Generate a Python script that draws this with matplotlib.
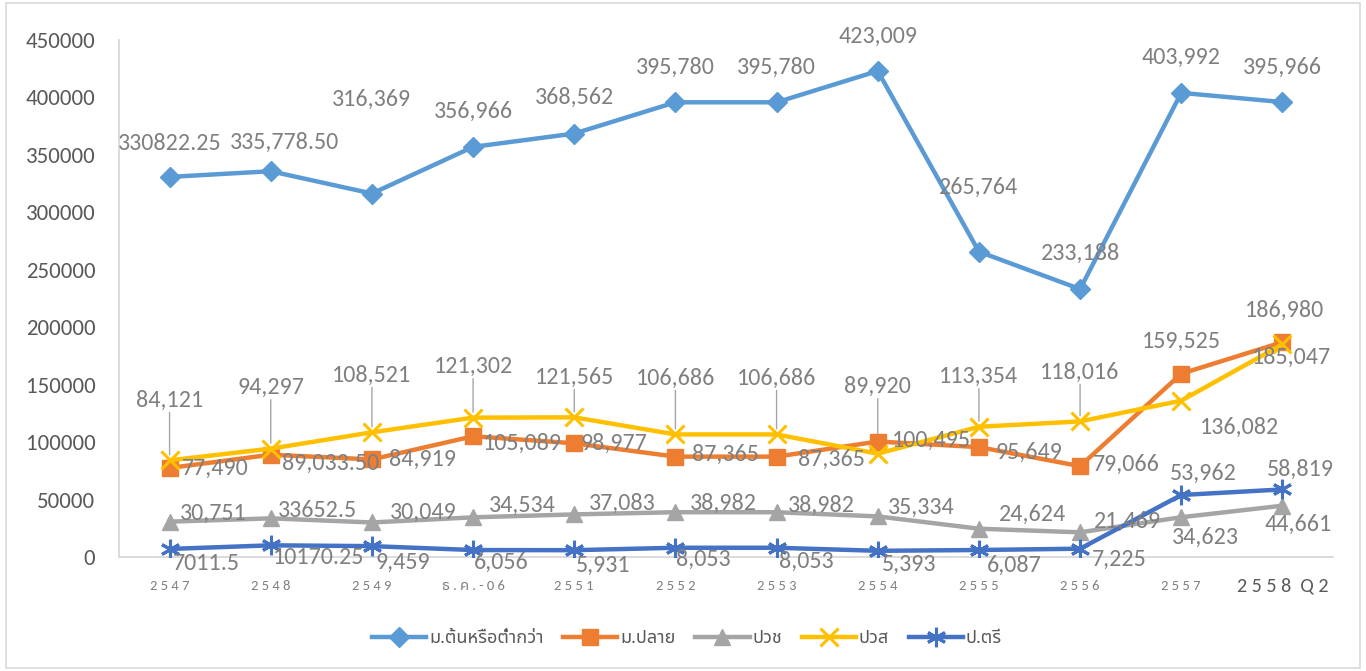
import matplotlib
matplotlib.use("Agg")
import matplotlib.pyplot as plt
from matplotlib.patches import Rectangle
import logging
logging.getLogger('matplotlib.font_manager').setLevel(logging.ERROR)

# ---------------- data ----------------
categories = ["2547", "2548", "2549", "ธ.ค.-06", "2551", "2552", "2553",
              "2554", "2555", "2556", "2557", "2558 Q2"]

series_names = ["ม.ต้นหรือต่ำกว่า", "ม.ปลาย", "ปวช", "ปวส", "ป.ตรี"]

lower_sec = [330822.25, 335778.50, 316369, 356966, 368562, 395780, 395780,
             423009, 265764, 233188, 403992, 395966]
upper_sec = [77490, 89033.5, 84919, 105089, 98977, 87365, 87365,
             100495, 95649, 79066, 159525, 186980]
voc_cert = [30751, 33652.5, 30049, 34534, 37083, 38982, 38982,
            35334, 24624, 21469, 34623, 44661]
voc_dipl = [84121, 94297, 108521, 121302, 121565, 106686, 106686,
            89920, 113354, 118016, 136082, 185047]
bachelor = [7011.5, 10170.25, 9459, 6056, 5931, 8053, 8053,
            5393, 6087, 7225, 53962, 58819]

lower_sec_lbl = ["330822.25", "335,778.50", "316,369", "356,966", "368,562", "395,780",
                 "395,780", "423,009", "265,764", "233,188", "403,992", "395,966"]
upper_sec_lbl = ["77,490", "89,033.50", "84,919", "105,089", "98,977", "87,365",
                 "87,365", "100,495", "95,649", "79,066", "159,525", "186,980"]
voc_cert_lbl = ["30,751", "33652.5", "30,049", "34,534", "37,083", "38,982",
                "38,982", "35,334", "24,624", "21,469", "34,623", "44,661"]
voc_dipl_lbl = ["84,121", "94,297", "108,521", "121,302", "121,565", "106,686",
                "106,686", "89,920", "113,354", "118,016", "136,082", "185,047"]
bachelor_lbl = ["7011.5", "10170.25", "9,459", "6,056", "5,931", "8,053",
                "8,053", "5,393", "6,087", "7,225", "53,962", "58,819"]

yticks = [0, 50000, 100000, 150000, 200000, 250000, 300000, 350000, 400000, 450000]

# ---------------- style ----------------
C_BLUE = "#5B9BD5"
C_ORANGE = "#ED7D31"
C_GRAY = "#A5A5A5"
C_YELLOW = "#FFC000"
C_DBLUE = "#4472C4"
LBL_COLOR = "#7F7F7F"
AX_COLOR = "#D9D9D9"
THAI = ["Noto Sans Thai", "Sarabun", "Anuphan"]
LBL_FONT = ["Carlito", "DejaVu Sans"]

# label offsets in pixels (dx, dy) and horizontal alignment
blue_off = [(0, 33, 'center'), (14, 29, 'center'), (0, 94, 'center'), (0, 36, 'center'),
            (0, 36, 'center'), (0, 35, 'center'), (0, 35, 'center'), (0, 35, 'center'),
            (0, 64, 'center'), (0, 36, 'center'), (0, 36, 'center'), (0, 35, 'center')]
orange_off = [(12, 0, 'left'), (11, -9, 'left'), (17, 0, 'left'), (10, -7, 'left'),
              (6, 0, 'left'), (17, 2, 'left'), (21, -3, 'left'), (14, 1, 'left'),
              (17, -5, 'left'), (13, 2, 'left'), (0, 32, 'center'), (2, 32, 'center')]
gray_off = [(10, 8, 'left'), (7, 8, 'left'), (18, 10, 'left'), (16, 12, 'left'),
            (15, 11, 'left'), (14, 9, 'left'), (11, 7, 'left'), (10, 9, 'left'),
            (20, 14, 'left'), (14, 11, 'left'), (24, -20, 'center'), (16, -19, 'center')]
yellow_off = [(0, 60, 'center'), (0, 61, 'center'), (0, 57, 'center'), (0, 51, 'center'),
              (0, 40, 'center'), (0, 56, 'center'), (0, 56, 'center'), (0, 67, 'center'),
              (0, 50, 'center'), (0, 49, 'center'), (58, -27, 'center'), (9, -13, 'center')]
dblue_off = [(3, -15, 'left'), (2, -12, 'left'), (4, -16, 'left'), (1, -12, 'left'),
             (2, -15, 'left'), (1, -12, 'left'), (2, -14, 'left'), (4, -14, 'left'),
             (8, -15, 'left'), (12, -11, 'left'), (22, 22, 'center'), (18, 20, 'center')]

W, H, DPI = 1366, 671, 100
fig = plt.figure(figsize=(W / DPI, H / DPI), dpi=DPI)
fig.patch.set_facecolor("white")
ax = fig.add_axes([119 / W, 1 - 557 / H, (1333 - 119) / W, (557 - 40) / H])

x = list(range(len(categories)))
line_specs = [
    (lower_sec, C_BLUE, 'D', 10, 1.0),
    (upper_sec, C_ORANGE, 's', 12, 1.0),
    (voc_cert, C_GRAY, '^', 12, 1.0),
    (voc_dipl, C_YELLOW, 'x', 13, 2.2),
    (bachelor, C_DBLUE, (6, 2, 0), 14, 2.2),
]
for (vals, col, mk, ms, mew), name in zip(line_specs, series_names):
    ax.plot(x, vals, color=col, lw=3.2, marker=mk, ms=ms, mew=mew,
            mfc=col, mec=col, label=name, solid_joinstyle='round', zorder=3)

ax.set_xlim(-0.5, len(categories) - 0.5)
ax.set_ylim(0, 450000)
ax.set_yticks(yticks)
ax.set_yticklabels([str(v) for v in yticks], fontsize=16.5, color="#595959",
                   family=LBL_FONT)
ax.tick_params(axis='y', length=0, pad=17)

def spaced(s, sep=" "):
    return sep.join(list(s))

xt_labels = [spaced(c) for c in categories[:-1]] + ["2 5 5 8  Q 2"]
ax.set_xticks(x)
ax.set_xticklabels(xt_labels)
ax.tick_params(axis='x', length=0, pad=21)
for i, t in enumerate(ax.get_xticklabels()):
    t.set_va('center')
    t.set_family(["Carlito"] + THAI)
    if i == len(categories) - 1:
        t.set_fontsize(14.5)
        t.set_color("#595959")
    else:
        t.set_fontsize(10.5)
        t.set_color("#808080")

for s in ['top', 'right']:
    ax.spines[s].set_visible(False)
for s in ['left', 'bottom']:
    ax.spines[s].set_color(AX_COLOR)
    ax.spines[s].set_linewidth(1.3)

# data labels
def add_labels(vals, labels, offs, leader=False):
    for xi, v, lb, (dx, dy, ha) in zip(x, vals, labels, offs):
        ax.annotate(lb, (xi, v), xytext=(dx, dy), textcoords='offset pixels',
                    ha=ha, va='center', fontsize=17.3, color=LBL_COLOR,
                    family=LBL_FONT, zorder=5)
        if leader and dy >= 38:
            ax.annotate("", (xi, v), xytext=(dx, dy - 12), textcoords='offset pixels',
                        arrowprops=dict(arrowstyle='-', color="#A6A6A6", lw=1.0,
                                        shrinkA=0, shrinkB=4), zorder=2)

add_labels(lower_sec, lower_sec_lbl, blue_off)
add_labels(upper_sec, upper_sec_lbl, orange_off)
add_labels(voc_cert, voc_cert_lbl, gray_off)
add_labels(voc_dipl, voc_dipl_lbl, yellow_off, leader=True)
add_labels(bachelor, bachelor_lbl, dblue_off)

leg = fig.legend(loc='center', bbox_to_anchor=(687 / W, 1 - 638 / H), ncol=5,
                 frameon=False, handlelength=3.0, handletextpad=0.15,
                 columnspacing=1.1, prop={'family': THAI, 'size': 13})
for t in leg.get_texts():
    t.set_color("#595959")

fig.add_artist(Rectangle((6 / W, 3 / H), (1360 - 6) / W, (668 - 3) / H,
                         transform=fig.transFigure, fill=False,
                         edgecolor=AX_COLOR, lw=1.2))

fig.savefig("out.png", dpi=DPI, facecolor="white")
